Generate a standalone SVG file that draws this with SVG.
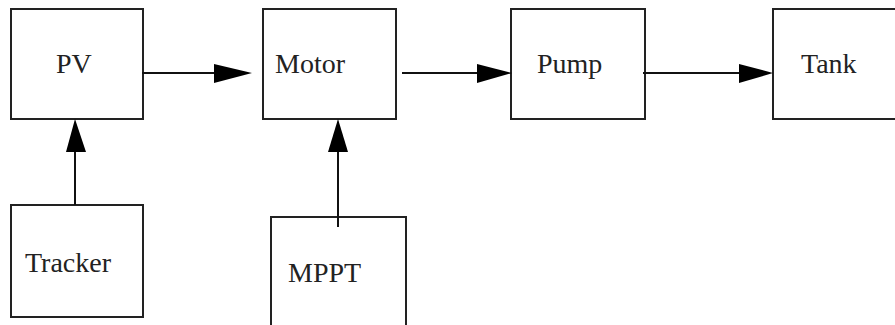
<svg xmlns="http://www.w3.org/2000/svg" width="895" height="325" viewBox="0 0 895 325">
<style>
.box{fill:#fff;stroke:#222;stroke-width:2}
.lbl{font-family:'Liberation Serif','Times New Roman',serif;font-size:28px;fill:#222}
.ln{stroke:#111;stroke-width:2;fill:none}
.ah{fill:#000}
</style>
<rect width="895" height="325" fill="#fff"/>
<g id="PV"><rect class="box" x="11" y="9" width="132" height="110"/><text class="lbl" x="56" y="73">PV</text></g>
<g id="Motor"><rect class="box" x="263" y="9" width="133" height="110"/><text class="lbl" x="275" y="73">Motor</text></g>
<g id="Pump"><rect class="box" x="511" y="9" width="134" height="110"/><text class="lbl" x="537" y="73">Pump</text></g>
<g id="Tank"><rect class="box" x="773" y="9" width="134" height="110"/><text class="lbl" x="801" y="73">Tank</text></g>
<g id="Tracker"><rect class="box" x="11" y="205" width="132" height="112"/><text class="lbl" x="25" y="272">Tracker</text></g>
<g id="MPPT"><rect class="box" x="271" y="217" width="135" height="120"/><text class="lbl" x="288" y="282">MPPT</text></g>
<g id="connectors">
<line class="ln" x1="142" y1="73" x2="230" y2="73"/>
<polygon class="ah" points="214,64 252,73 214,83"/>
<line class="ln" x1="402" y1="73" x2="490" y2="73"/>
<polygon class="ah" points="477,64 512,73 477,83"/>
<line class="ln" x1="643" y1="73" x2="750" y2="73"/>
<polygon class="ah" points="739,64 773,73 739,83"/>
<line class="ln" x1="75" y1="205" x2="75" y2="140"/>
<polygon class="ah" points="66,152 75,119 86,152"/>
<line class="ln" x1="338" y1="227" x2="338" y2="140"/>
<polygon class="ah" points="328,152 338,119 348,152"/>
</g>
</svg>
